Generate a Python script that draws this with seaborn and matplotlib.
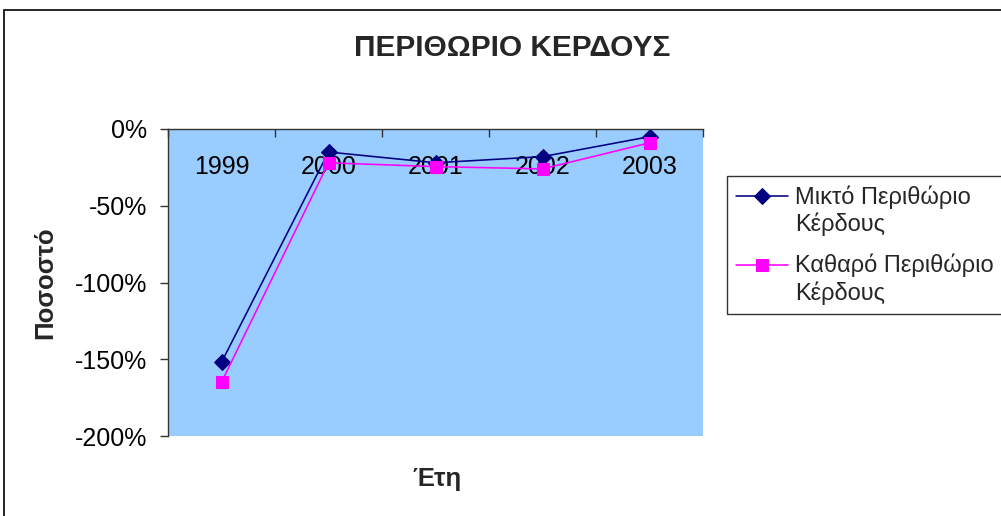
import numpy as np
import matplotlib
matplotlib.use("Agg")
import matplotlib.pyplot as plt
import seaborn as sns
from matplotlib.ticker import FixedLocator, FuncFormatter
from matplotlib.patches import Rectangle
from matplotlib.legend_handler import HandlerLine2D

# Profit margins per year (percent)
years = ["1999", "2000", "2001", "2002", "2003"]
gross_margin = [-152, -15, -22, -18, -5]
net_margin = [-165, -22, -24.5, -26, -9]
series_labels = ["Μικτό Περιθώριο\nΚέρδους", "Καθαρό Περιθώριο\nΚέρδους"]
y_ticks = [0, -50, -100, -150, -200]

sns.set_style("white")
plt.rcParams["font.family"] = ["Liberation Sans", "DejaVu Sans"]
plt.rcParams["axes.unicode_minus"] = False


class FirstLineHandler(HandlerLine2D):
    """Legend line handle aligned with the first line of a two-line label."""

    def __init__(self, shift=10.5, **kw):
        super().__init__(**kw)
        self.shift = shift

    def create_artists(self, legend, orig_handle, xdescent, ydescent, width,
                       height, fontsize, trans):
        arts = super().create_artists(legend, orig_handle, xdescent, ydescent,
                                      width, height, fontsize, trans)
        for a in arts:
            a.set_ydata(np.asarray(a.get_ydata(), dtype=float) + self.shift)
        return arts


W, H = 1001, 516
fig = plt.figure(figsize=(W / 100, H / 100), dpi=100)
fig.patch.set_facecolor("white")

# outer chart frame
fig.add_artist(Rectangle((4 / W, -0.05), 1.2, 1.05 - 10 / H, transform=fig.transFigure,
                         fill=False, edgecolor="black", linewidth=1.2))

ax = fig.add_axes([168 / W, 80 / H, 535 / W, 307 / H])
ax.set_facecolor("#99CCFF")

pos = np.arange(len(years))
sns.lineplot(x=pos, y=gross_margin, ax=ax, color="#000080", marker="D",
             markersize=8, markeredgecolor="#000080", linewidth=1.15,
             label=series_labels[0])
sns.lineplot(x=pos, y=net_margin, ax=ax, color="#FF00FF", marker="s",
             markersize=8, markeredgecolor="#FF00FF", linewidth=1.15,
             label=series_labels[1])

ax.set_xlim(-0.5, len(years) - 0.5)
ax.set_ylim(-200, 0)

axis_col = "#333333"
for s in ["top", "right"]:
    ax.spines[s].set_visible(False)
ax.spines["left"].set_color(axis_col)
ax.spines["bottom"].set_color(axis_col)
ax.spines["bottom"].set_position(("data", 0))
ax.spines["left"].set_linewidth(1.0)
ax.spines["bottom"].set_linewidth(1.0)

# category axis sits at 0%, labels hang below it inside the plot
ax.xaxis.set_major_locator(FixedLocator(pos))
ax.set_xticklabels(years)
ax.xaxis.set_minor_locator(FixedLocator(np.arange(-0.5, len(years), 1.0)))
ax.tick_params(axis="x", which="major", length=0, pad=19, labelsize=18,
               labelcolor="black", bottom=True)
ax.tick_params(axis="x", which="minor", length=6, width=1, direction="out",
               color=axis_col, bottom=True)

ax.yaxis.set_major_locator(FixedLocator(y_ticks))
ax.yaxis.set_major_formatter(FuncFormatter(lambda v, p: f"{int(v)}%"))
ax.tick_params(axis="y", length=6, width=1, direction="out", color=axis_col,
               pad=9, labelsize=18, labelcolor="black", left=True)
ax.set_xlabel("")
ax.set_ylabel("")
ax.grid(False)

handles, labels = ax.get_legend_handles_labels()
leg = ax.legend(handles, labels, loc="upper left",
                bbox_to_anchor=(727 / W, 1 - 176 / H),
                bbox_transform=fig.transFigure, fontsize=17, frameon=True,
                fancybox=False, edgecolor="black", handlelength=2.2,
                handletextpad=0.3, labelspacing=0.75, borderpad=0.4,
                borderaxespad=0,
                handler_map={h: FirstLineHandler() for h in handles})
leg.get_frame().set_linewidth(1.0)
leg.get_frame().set_facecolor("white")

fig.text(512 / W, 1 - 48 / H, "ΠΕΡΙΘΩΡΙΟ ΚΕΡΔΟΥΣ", ha="center", va="center",
         fontsize=21.5, fontweight="bold")
fig.text(45 / W, 1 - 283 / H, "Ποσοστό", ha="center", va="center",
         rotation=90, fontsize=18.5, fontweight="bold")
fig.text(437 / W, 1 - 479 / H, "Έτη", ha="center", va="center",
         fontsize=18.5, fontweight="bold")

fig.savefig("out.png", dpi=100)
